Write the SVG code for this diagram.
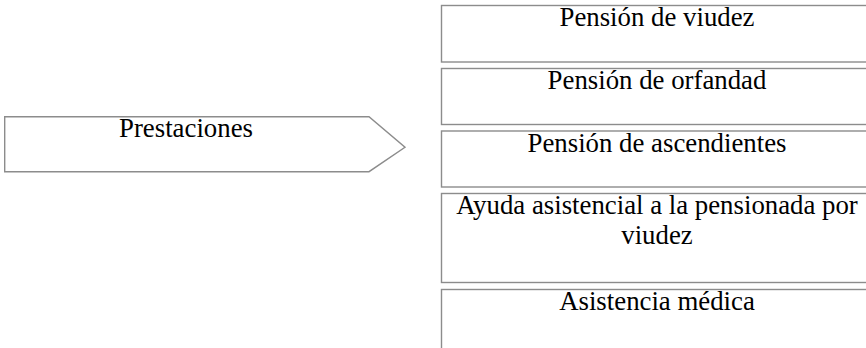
<svg xmlns="http://www.w3.org/2000/svg" width="866" height="348" viewBox="0 0 866 348">
  <style>
    .shape { fill: #ffffff; stroke: #8c8c8c; stroke-width: 1.4; }
    .label { font-family: "Liberation Serif", "Times New Roman", serif; font-size: 26.8px; fill: #000000; text-anchor: middle; }
  </style>
  <rect width="866" height="348" fill="#ffffff"/>

  <!-- Left pentagon arrow -->
  <g id="prestaciones">
    <polygon class="shape" points="4.7,116.7 369,116.7 405,147.3 369,171.7 4.7,171.7"/>
    <text class="label" x="186" y="136.7">Prestaciones</text>
  </g>

  <!-- Stacked list of benefits -->
  <g id="pension-viudez">
    <rect class="shape" x="441.5" y="5.5" width="431" height="56.5"/>
    <text class="label" x="657" y="26">Pensión de viudez</text>
  </g>
  <g id="pension-orfandad">
    <rect class="shape" x="441.5" y="68.5" width="431" height="56"/>
    <text class="label" x="657" y="89">Pensión de orfandad</text>
  </g>
  <g id="pension-ascendientes">
    <rect class="shape" x="441.5" y="131" width="431" height="56"/>
    <text class="label" x="657" y="151.5">Pensión de ascendientes</text>
  </g>
  <g id="ayuda-asistencial">
    <rect class="shape" x="441.5" y="193.5" width="431" height="89"/>
    <text class="label" x="657" y="214">Ayuda asistencial a la pensionada por</text>
    <text class="label" x="657" y="244">viudez</text>
  </g>
  <g id="asistencia-medica">
    <rect class="shape" x="441.5" y="289.5" width="431" height="80"/>
    <text class="label" x="657" y="310">Asistencia médica</text>
  </g>

  <!-- No connectors are drawn between the nodes -->
  <g id="connectors"/>
</svg>
